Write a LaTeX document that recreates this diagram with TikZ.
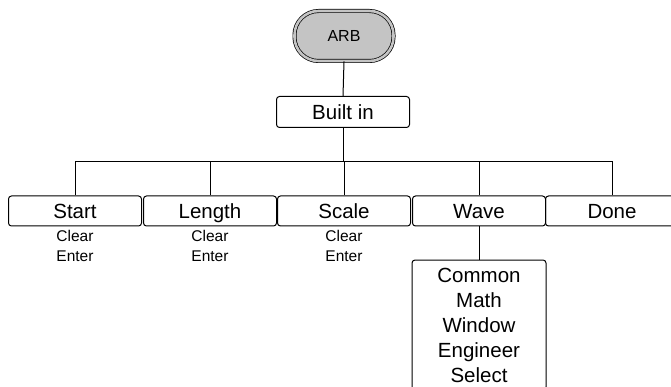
\documentclass[tikz,border=0pt]{standalone}
\usepackage{fontspec}
\setmainfont{Liberation Sans}
\usetikzlibrary{positioning}
\definecolor{arbgray}{HTML}{C4C4C4}

\begin{document}
\begin{tikzpicture}[x=1pt,y=-1pt]

\tikzset{
menubox/.style={
draw=black,
line width=1pt,
rounded corners=3pt,
minimum width=133pt,
minimum height=30pt,
inner sep=0pt,
font=\fontsize{20.5}{25}\selectfont
},
softkey/.style={
menubox,
text height=15pt,
text depth=0pt
},
keylabel/.style={
align=center,
inner sep=0pt,
font=\fontsize{15.5}{20}\selectfont
},
link/.style={
line width=1pt
}
}

\clip (0,0) rectangle (671,387);

%----------------------------------
% TOP
%----------------------------------

\node[draw=black,double=arbgray,double distance=2.6pt,line width=0.7pt,
      fill=arbgray,rounded corners=24pt,minimum width=99pt,minimum height=50pt,
      inner sep=0pt,font=\fontsize{16}{18}\selectfont] (arb) at (344,36) {ARB};

\node[softkey,minimum width=133pt,minimum height=31pt] (builtin) at (343,112) {Built in};

\coordinate (bus) at (343,162);

%----------------------------------
% SOFT KEYS
%----------------------------------

\node[softkey] (start)  at (75,211)  {Start};
\node[softkey] (length) at (210,211) {Length};
\node[softkey] (scale)  at (344,211) {Scale};
\node[softkey] (wave)   at (479,211) {Wave};
\node[softkey] (done)   at (612,211) {Done};

\node[keylabel,below=4pt of start]  (startkeys)  {Clear\\Enter};
\node[keylabel,below=4pt of length] (lengthkeys) {Clear\\Enter};
\node[keylabel,below=4pt of scale]  (scalekeys)  {Clear\\Enter};

%----------------------------------
% WAVE MENU
%----------------------------------

\node[menubox,minimum width=134pt,minimum height=130pt,align=center] (wavemenu) at (479,325)
      {Common\\Math\\Window\\Engineer\\Select};

%----------------------------------
% CONNECTORS
%----------------------------------

\draw[link] (arb.south) -- (builtin.north);
\draw[link] (builtin.south) -- (bus);
\foreach \k in {start,length,scale,wave,done}
  \draw[link] (\k.north) |- (bus);
\draw[link] (wave.south) -- (wavemenu.north);

\end{tikzpicture}
\end{document}
